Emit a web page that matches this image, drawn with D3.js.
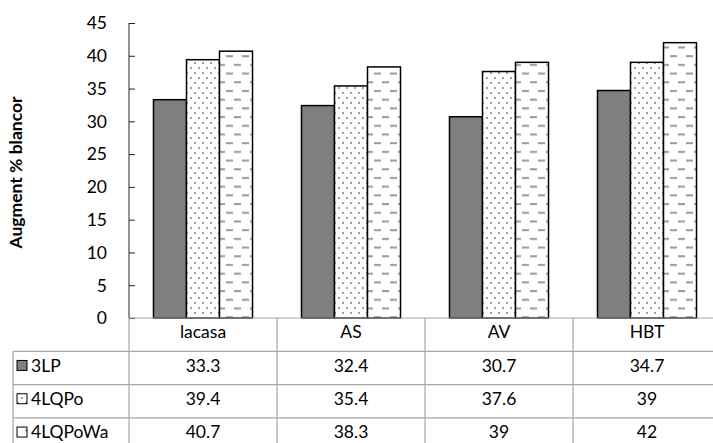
<!DOCTYPE html>
<html>
<head>
<meta charset="utf-8">
<script src="https://cdn.jsdelivr.net/npm/d3@7/dist/d3.min.js"></script>
<style>
  html, body { margin: 0; padding: 0; background: #fff; }
  svg { display: block; }
  text { font-family: Lato, "Open Sans", "Noto Sans", sans-serif; fill: #000; }
</style>
</head>
<body>
<div id="chart"></div>
<script>
// Whiteness increase (%) per treatment and enzyme system
const categories = ["lacasa", "AS", "AV", "HBT"];
const seriesNames = ["3LP", "4LQPo", "4LQPoWa"];
const values3LP = [33.3, 32.4, 30.7, 34.7];
const values4LQPo = [39.4, 35.4, 37.6, 39];
const values4LQPoWa = [40.7, 38.3, 39, 42];
const yTicks = [0, 5, 10, 15, 20, 25, 30, 35, 40, 45];
const yTitle = "Augment % blancor";

const seriesValues = [values3LP, values4LQPo, values4LQPoWa];
const seriesFill = ["#7f7f7f", "url(#dots)", "url(#dashes)"];

const W = 713, H = 443;
const plot = { left: 129, right: 721, top: 23, bottom: 318 };
const rowH = 33.3;
const textLift = 2.5;
const tableLeft = 13;
const gridColor = "#a6a6a6";
const fontSize = 17.5;

const svg = d3.select("#chart").append("svg")
  .attr("width", W).attr("height", H);

// Fill patterns
const defs = svg.append("defs");
const dots = defs.append("pattern").attr("id", "dots")
  .attr("patternUnits", "userSpaceOnUse").attr("width", 8).attr("height", 10);
dots.append("rect").attr("width", 8).attr("height", 10).attr("fill", "#fff");
dots.append("rect").attr("x", 1).attr("y", 2).attr("width", 2).attr("height", 2).attr("fill", "#a0a0a0");
dots.append("rect").attr("x", 5).attr("y", 7).attr("width", 2).attr("height", 2).attr("fill", "#a0a0a0");

const dashes = defs.append("pattern").attr("id", "dashes")
  .attr("patternUnits", "userSpaceOnUse").attr("width", 16).attr("height", 17.4);
dashes.append("rect").attr("width", 16).attr("height", 17.4).attr("fill", "#fff");
dashes.append("rect").attr("x", 1).attr("y", 3).attr("width", 7).attr("height", 2).attr("fill", "#9a9a9a");
dashes.append("rect").attr("x", 9).attr("y", 11.7).attr("width", 7).attr("height", 2).attr("fill", "#9a9a9a");

// Scales
const x0 = d3.scaleBand().domain(categories).range([plot.left, plot.right]).padding(0);
const x1 = d3.scaleBand().domain(seriesNames).range([0, x0.bandwidth()])
  .paddingInner(0).paddingOuter(0.742);
const y = d3.scaleLinear().domain([0, 45]).range([plot.bottom, plot.top]);

// Bars
const groups = svg.append("g").selectAll("g")
  .data(categories)
  .join("g")
  .attr("transform", d => `translate(${x0(d)},0)`);

groups.selectAll("rect")
  .data((c, ci) => seriesNames.map((s, si) => ({ s, si, v: seriesValues[si][ci] })))
  .join("rect")
  .attr("x", d => x1(d.s))
  .attr("y", d => y(d.v))
  .attr("width", x1.bandwidth())
  .attr("height", d => y(0) - y(d.v))
  .attr("fill", d => seriesFill[d.si])
  .attr("stroke", "#000")
  .attr("stroke-width", 1.5);

// Y axis with inward ticks
const yAxis = d3.axisRight(y).tickValues(yTicks).tickSize(6).tickFormat("");
const yg = svg.append("g").attr("transform", `translate(${plot.left},0)`).call(yAxis);
yg.select(".domain").remove();
yg.selectAll(".tick line").attr("stroke", "#262626").attr("stroke-width", 1);
svg.append("line")
  .attr("x1", plot.left).attr("x2", plot.left)
  .attr("y1", y(45)).attr("y2", y(0))
  .attr("stroke", "#262626").attr("stroke-width", 1);

svg.append("g").selectAll("text")
  .data(yTicks)
  .join("text")
  .attr("x", 107)
  .attr("y", d => y(d))
  .attr("dy", "0.36em")
  .attr("text-anchor", "end")
  .attr("font-size", fontSize)
  .text(d => d);

svg.append("text")
  .attr("transform", `translate(22,${(plot.top + plot.bottom) / 2 + 2}) rotate(-90)`)
  .attr("text-anchor", "middle")
  .attr("font-size", 17.5)
  .attr("font-weight", "bold")
  .text(yTitle);

// Data table below the plot
const grid = svg.append("g").attr("stroke", gridColor).attr("stroke-width", 1.2);
const rowY = d3.range(5).map(i => plot.bottom + i * rowH);
rowY.forEach((ry, i) => {
  grid.append("line")
    .attr("x1", i === 0 ? plot.left : tableLeft).attr("x2", plot.right)
    .attr("y1", ry).attr("y2", ry);
});
const colX = categories.map(c => x0(c)).concat([plot.right]);
colX.forEach(cx => {
  grid.append("line").attr("x1", cx).attr("x2", cx)
    .attr("y1", plot.bottom).attr("y2", plot.bottom + 4 * rowH);
});
grid.append("line").attr("x1", tableLeft).attr("x2", tableLeft)
  .attr("y1", plot.bottom + rowH).attr("y2", plot.bottom + 4 * rowH);

// Category header row
svg.append("g").selectAll("text")
  .data(categories)
  .join("text")
  .attr("x", d => x0(d) + x0.bandwidth() / 2)
  .attr("y", plot.bottom + rowH / 2 - textLift)
  .attr("dy", "0.36em")
  .attr("text-anchor", "middle")
  .attr("font-size", fontSize)
  .text(d => d);

// Series rows: legend key, name, values
seriesNames.forEach((s, si) => {
  const cy = plot.bottom + (si + 1.5) * rowH - textLift;
  svg.append("rect")
    .attr("x", 17).attr("y", cy - 5)
    .attr("width", 10).attr("height", 10)
    .attr("fill", seriesFill[si])
    .attr("stroke", "#000").attr("stroke-width", 1);
  svg.append("text")
    .attr("x", 31).attr("y", cy)
    .attr("dy", "0.36em")
    .attr("font-size", fontSize)
    .text(s);
  svg.append("g").selectAll("text")
    .data(categories)
    .join("text")
    .attr("x", d => x0(d) + x0.bandwidth() / 2)
    .attr("y", cy)
    .attr("dy", "0.36em")
    .attr("text-anchor", "middle")
    .attr("font-size", fontSize)
    .text((d, ci) => seriesValues[si][ci]);
});
</script>
</body>
</html>
